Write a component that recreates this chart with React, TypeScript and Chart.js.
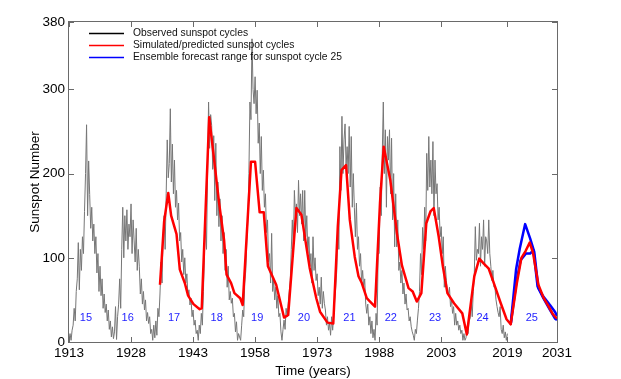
import React, { useEffect, useRef } from 'react';
import { Chart, registerables } from 'chart.js';

Chart.register(...registerables);

const X_MIN = 1913;
const X_MAX = 2031;
const Y_MIN = 0;
const Y_MAX = 380;
const X_TICKS = [1913, 1928, 1943, 1958, 1973, 1988, 2003, 2019, 2031];
const Y_TICKS = [0, 100, 200, 300, 380];

// Observed sunspot number, quarterly samples starting 1913.0
const OBS_START = 1913;
const OBS_STEP = 0.25;
const observed = [
  3, 10, 2, 14, // 1913
  20, 40, 25, 60, // 1914
  75, 118, 62, 110, // 1915
  85, 125, 105, 155, // 1916
  200, 258, 150, 215, // 1917
  175, 135, 160, 120, // 1918
  140, 105, 125, 82, // 1919
  105, 60, 90, 55, // 1920
  75, 40, 57, 35, // 1921
  45, 25, 38, 15, // 1922
  25, 6, 18, 4, // 1923
  12, 42, 3, 30, // 1924
  45, 75, 40, 110, // 1925
  160, 100, 150, 120, // 1926
  157, 110, 140, 125, // 1927
  164, 105, 145, 120, // 1928
  95, 135, 85, 110, // 1929
  90, 57, 75, 45, // 1930
  60, 38, 50, 25, // 1931
  35, 22, 30, 10, // 1932
  15, 2, 20, 5, // 1933
  25, 8, 40, 30, // 1934
  57, 95, 70, 125, // 1935
  150, 110, 176, 240, // 1936
  195, 212, 277, 190, // 1937
  235, 176, 216, 160, // 1938
  180, 145, 165, 120, // 1939
  130, 95, 110, 80, // 1940
  100, 70, 81, 55, // 1941
  62, 44, 52, 30, // 1942
  38, 20, 26, 10, // 1943
  14, 2, 20, 10, // 1944
  34, 20, 60, 105, // 1945
  145, 110, 200, 285, // 1946
  230, 270, 257, 205, // 1947
  245, 168, 236, 150, // 1948
  190, 137, 170, 120, // 1949
  150, 105, 130, 85, // 1950
  110, 65, 90, 50, // 1951
  60, 46, 52, 30, // 1952
  34, 12, 24, 2, // 1953
  10, 6, 2, 20, // 1954
  38, 30, 70, 85, // 1955
  120, 145, 200, 285, // 1956
  264, 360, 300, 283, // 1957
  315, 271, 299, 236, // 1958
  260, 200, 244, 180, // 1959
  204, 160, 176, 130, // 1960
  145, 95, 105, 70, // 1961
  129, 60, 73, 50, // 1962
  65, 40, 55, 30, // 1963
  34, 12, 2, 15, // 1964
  26, 15, 40, 30, // 1965
  46, 60, 73, 110, // 1966
  145, 110, 180, 150, // 1967
  164, 130, 192, 150, // 1968
  176, 140, 180, 120, // 1969
  180, 125, 150, 105, // 1970
  125, 90, 105, 70, // 1971
  125, 85, 100, 73, // 1972
  81, 55, 65, 45, // 1973
  77, 40, 60, 46, // 1974
  38, 20, 30, 14, // 1975
  22, 8, 30, 14, // 1976
  30, 50, 65, 85, // 1977
  145, 110, 232, 180, // 1978
  268, 200, 240, 259, // 1979
  208, 232, 200, 256, // 1980
  184, 244, 160, 200, // 1981
  160, 125, 165, 110, // 1982
  125, 90, 105, 70, // 1983
  85, 65, 75, 45, // 1984
  34, 45, 20, 30, // 1985
  10, 25, 5, 15, // 1986
  2, 34, 20, 105, // 1987
  105, 184, 150, 224, // 1988
  285, 200, 252, 160, // 1989
  244, 216, 252, 176, // 1990
  242, 145, 200, 113, // 1991
  176, 113, 145, 85, // 1992
  95, 70, 85, 57, // 1993
  70, 45, 57, 38, // 1994
  40, 25, 30, 18, // 1995
  12, 8, 2, 15, // 1996
  10, 26, 40, 60, // 1997
  105, 80, 136, 110, // 1998
  160, 120, 224, 180, // 1999
  244, 184, 216, 176, // 2000
  238, 150, 216, 176, // 2001
  188, 145, 160, 125, // 2002
  137, 105, 125, 65, // 2003
  90, 73, 60, 57, // 2004
  65, 42, 50, 34, // 2005
  42, 20, 34, 20, // 2006
  25, 14, 20, 10, // 2007
  14, 2, 10, 2, // 2008
  5, 18, 10, 25, // 2009
  28, 46, 30, 60, // 2010
  80, 137, 97, 110, // 2011
  105, 141, 90, 125, // 2012
  110, 145, 90, 125, // 2013
  120, 105, 145, 105, // 2014
  90, 73, 85, 65, // 2015
  65, 50, 42, 35, // 2016
  30, 42, 15, 10, // 2017
  20, 5, 12, 2, // 2018
  10, // 2019
];

// Simulated / predicted sunspot cycles
const simYears = [
  1935.0, 1936.0, 1937.0, 1937.7, 1939.0, 1939.8, 1941.0, 1941.8, 1943.1, 1944.6, 1945.1,
  1946.9, 1948.1, 1949.3, 1950.5, 1951.1, 1952.2, 1953.0, 1954.4, 1955.0,
  1957.0, 1958.0, 1959.1, 1960.1, 1961.1, 1963.1, 1965.0, 1966.0,
  1968.0, 1969.2, 1971.2, 1972.8, 1973.7, 1975.5, 1976.9,
  1978.0, 1978.9, 1980.0, 1980.9, 1982.1, 1983.0, 1983.8, 1985.0, 1985.8, 1987.0,
  1988.2, 1989.1, 1990.7, 1992.3, 1993.5, 1995.1, 1996.1, 1997.1, 1998.2,
  1999.4, 2000.4, 2001.2, 2002.4, 2003.4, 2004.5, 2006.1, 2008.1, 2009.2,
  2011.0, 2012.2, 2013.3, 2014.5, 2016.0, 2017.4, 2018.8, 2019.8,
  2021.3, 2022.4, 2023.4, 2024.4, 2025.2, 2026.5, 2027.8, 2029.0, 2030.0, 2031.0,
];
const simValues = [
  68, 143, 177, 150, 128, 86, 70, 55, 45, 39, 40,
  267, 216, 165, 121, 80, 70, 58, 52, 44,
  214, 214, 154, 154, 90, 68, 29, 32,
  159, 151, 88, 52, 36, 23, 22,
  137, 204, 210, 145, 101, 78, 70, 52, 48, 42,
  165, 232, 192, 129, 91, 64, 60, 48, 58,
  141, 155, 159, 125, 90, 58, 46, 34, 9,
  78, 99, 93, 87, 66, 46, 27, 21,
  70, 100, 108, 118, 106, 68, 52, 42, 33, 28,
];

// Ensemble forecast range for cycle 25
const ensUpperYears = [2019.8, 2021.1, 2022.0, 2023.3, 2024.5, 2025.5, 2026.5, 2027.7, 2029.3, 2030.5, 2031.0];
const ensUpperValues = [21, 86, 111, 140, 123, 107, 64, 54, 44, 36, 31];
const ensLowerYears = [2019.8, 2021.2, 2022.2, 2023.5, 2024.5, 2025.3, 2026.3, 2027.7, 2029.3, 2030.5, 2031.0];
const ensLowerValues = [21, 72, 97, 105, 105, 109, 66, 52, 38, 28, 26];

// Cycle number annotations
const cycleNumbers = ['15', '16', '17', '18', '19', '20', '21', '22', '23', '24', '25'];
const cycleYears = [1917.1, 1927.2, 1938.4, 1948.7, 1958.5, 1969.8, 1980.8, 1990.8, 2001.5, 2013.0, 2024.9];
const CYCLE_LABEL_VALUE = 28.5;

const legendLabels = [
  'Observed sunspot cycles',
  'Simulated/predicted sunspot cycles',
  'Ensemble forecast range for sunspot cycle 25',
];
const legendColors = ['#000000', '#ff0000', '#0000ff'];

const FONT = '"Liberation Sans", Arial, Helvetica, sans-serif';

const framePlugin = {
  id: 'matlabFrame',
  afterDatasetsDraw(chart: any) {
    const { ctx, chartArea } = chart;
    const { left, right, top, bottom } = chartArea;
    const xs = chart.scales.x;
    const ys = chart.scales.y;
    ctx.save();
    // cycle labels
    ctx.fillStyle = '#1e1eff';
    ctx.font = `11px ${FONT}`;
    ctx.textAlign = 'center';
    ctx.textBaseline = 'middle';
    cycleNumbers.forEach((t, i) => {
      ctx.fillText(t, xs.getPixelForValue(cycleYears[i]), ys.getPixelForValue(CYCLE_LABEL_VALUE));
    });
    // legend
    ctx.font = `10.3px ${FONT}`;
    ctx.textAlign = 'left';
    legendLabels.forEach((t, i) => {
      const y = 33.5 + i * 12;
      ctx.strokeStyle = legendColors[i];
      ctx.lineWidth = 1.5;
      ctx.beginPath();
      ctx.moveTo(89, y);
      ctx.lineTo(124, y);
      ctx.stroke();
      ctx.fillStyle = '#111';
      ctx.fillText(t, 133, y);
    });
    // frame
    ctx.strokeStyle = '#6a6a6a';
    ctx.lineWidth = 1;
    ctx.strokeRect(Math.round(left) - 0.5, Math.round(top) - 0.5, Math.round(right - left) + 1, Math.round(bottom - top) + 1);
    const TL = 5;
    ctx.beginPath();
    X_TICKS.forEach((v) => {
      const px = Math.round(xs.getPixelForValue(v)) + 0.5;
      ctx.moveTo(px, bottom);
      ctx.lineTo(px, bottom - TL);
      ctx.moveTo(px, top);
      ctx.lineTo(px, top + TL);
    });
    Y_TICKS.forEach((v) => {
      const py = Math.round(ys.getPixelForValue(v)) + 0.5;
      ctx.moveTo(left, py);
      ctx.lineTo(left + TL, py);
      ctx.moveTo(right, py);
      ctx.lineTo(right - TL, py);
    });
    ctx.stroke();
    ctx.restore();
  },
};

export default function App() {
  const canvasRef = useRef<HTMLCanvasElement | null>(null);

  useEffect(() => {
    const canvas = canvasRef.current;
    if (!canvas) return;
    const obsData = observed.map((v, i) => ({ x: OBS_START + i * OBS_STEP, y: v }));
    const simData = simYears.map((x, i) => ({ x, y: simValues[i] }));
    const upData = ensUpperYears.map((x, i) => ({ x, y: ensUpperValues[i] }));
    const loData = ensLowerYears.map((x, i) => ({ x, y: ensLowerValues[i] }));

    const chart = new Chart(canvas, {
      type: 'line',
      data: {
        datasets: [
          { label: 'Observed sunspot cycles', data: obsData, borderColor: '#767676', borderWidth: 1, pointRadius: 0, order: 4 },
          { label: 'Ensemble upper', data: upData, borderColor: '#0000ff', borderWidth: 2.5, pointRadius: 0, order: 3 },
          { label: 'Ensemble lower', data: loData, borderColor: '#0000ff', borderWidth: 2.5, pointRadius: 0, order: 2 },
          { label: 'Simulated/predicted sunspot cycles', data: simData, borderColor: '#ff0000', borderWidth: 2.5, pointRadius: 0, order: 1 },
        ],
      },
      options: {
        animation: false,
        responsive: false,
        events: [],
        layout: { padding: { left: 0, top: 22, right: 64, bottom: 0 } },
        elements: { line: { tension: 0, borderJoinStyle: 'round' } },
        plugins: { legend: { display: false }, tooltip: { enabled: false }, title: { display: false } },
        scales: {
          x: {
            type: 'linear',
            min: X_MIN,
            max: X_MAX,
            grid: { display: false, drawTicks: false },
            border: { display: false },
            afterBuildTicks: (s: any) => { s.ticks = X_TICKS.map((v) => ({ value: v })); },
            afterFit: (s: any) => { s.height = 37; },
            ticks: {
              autoSkip: false,
              maxRotation: 0,
              padding: 3,
              color: '#000',
              font: { family: FONT, size: 13.5 },
              callback: (v: any) => String(v),
            },
            title: { display: true, text: 'Time (years)', color: '#000', font: { family: FONT, size: 13.5 }, padding: { top: 5, bottom: 0 } },
          },
          y: {
            type: 'linear',
            min: Y_MIN,
            max: Y_MAX,
            grid: { display: false, drawTicks: false },
            border: { display: false },
            afterBuildTicks: (s: any) => { s.ticks = Y_TICKS.map((v) => ({ value: v })); },
            afterFit: (s: any) => { s.width = 69; },
            ticks: {
              autoSkip: false,
              padding: 4,
              color: '#000',
              font: { family: FONT, size: 13.5 },
              callback: (v: any) => String(v),
            },
            title: { display: true, text: 'Sunspot Number', color: '#000', font: { family: FONT, size: 13.5 }, padding: { top: 27, bottom: 0 } },
          },
        },
      },
      plugins: [framePlugin],
    } as any);

    return () => chart.destroy();
  }, []);

  return (
    <div style={{ position: 'fixed', left: 0, top: 0, width: 621, height: 379, background: '#fff' }}>
      <canvas ref={canvasRef} width={621} height={379} style={{ display: 'block', width: 621, height: 379 }} />
    </div>
  );
}
